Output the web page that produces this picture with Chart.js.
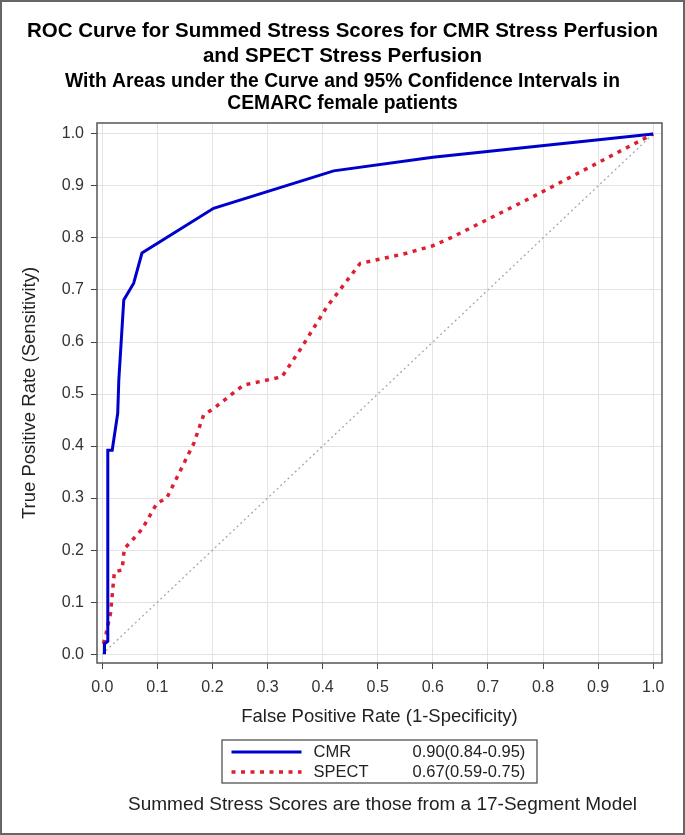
<!DOCTYPE html>
<html>
<head>
<meta charset="utf-8">
<script src="https://cdn.jsdelivr.net/npm/chart.js@4.4.0/dist/chart.umd.min.js"></script>
<style>
html, body { margin: 0; padding: 0; background: #fff; }
#wrap { width: 685px; height: 835px; }
</style>
</head>
<body>
<div id="wrap"><canvas id="grafica" width="685" height="835"></canvas></div>
<script>
// CMR curve (1-specificity, sensitivity)
const cmrX = [0.004, 0.004, 0.010, 0.010, 0.018, 0.028, 0.030, 0.039, 0.057, 0.072, 0.202, 0.420, 0.600, 1.000];
const cmrY = [0.000, 0.020, 0.025, 0.392, 0.392, 0.463, 0.527, 0.681, 0.713, 0.771, 0.857, 0.929, 0.955, 1.000];

// SPECT curve
const spectX = [0.002, 0.007, 0.015, 0.020, 0.022, 0.036, 0.040, 0.051, 0.072, 0.099, 0.117, 0.166, 0.184, 0.202, 0.256, 0.269, 0.326, 0.359, 0.408, 0.468, 0.550, 0.600, 0.632, 0.783, 1.000];
const spectY = [0.020, 0.040, 0.079, 0.136, 0.158, 0.162, 0.203, 0.215, 0.240, 0.290, 0.300, 0.405, 0.460, 0.472, 0.517, 0.520, 0.533, 0.585, 0.668, 0.751, 0.770, 0.785, 0.800, 0.880, 1.000];

// chance line
const refX = [0, 1];
const refY = [0, 1];

const seriesNames = ['CMR', 'SPECT'];
const aucText = ['0.90(0.84-0.95)', '0.67(0.59-0.75)'];
const tickVals = [0, 0.1, 0.2, 0.3, 0.4, 0.5, 0.6, 0.7, 0.8, 0.9, 1.0];

const titleLines = ['ROC Curve for Summed Stress Scores for CMR Stress Perfusion', 'and SPECT Stress Perfusion'];
const subtitleLines = ['With Areas under the Curve and 95% Confidence Intervals in', 'CEMARC female patients'];
const footnote = 'Summed Stress Scores are those from a 17-Segment Model';

const FONT = "'Liberation Sans', Arial, sans-serif";

function pts(xs, ys) {
  return xs.map((x, i) => ({ x: x, y: ys[i] }));
}

// white background, plot frame, outer border, legend box and footnote
const decor = {
  id: 'decor',
  beforeDraw(chart) {
    const ctx = chart.ctx;
    ctx.save();
    ctx.fillStyle = '#fff';
    ctx.fillRect(0, 0, chart.width, chart.height);
    ctx.restore();
  },
  afterDraw(chart) {
    const ctx = chart.ctx;
    const a = chart.chartArea;
    ctx.save();
    // plot frame
    ctx.strokeStyle = '#555';
    ctx.lineWidth = 1.5;
    ctx.strokeRect(a.left, a.top, a.right - a.left, a.bottom - a.top);
    // outer border
    ctx.strokeStyle = '#666';
    ctx.lineWidth = 2;
    ctx.strokeRect(1, 1, chart.width - 2, chart.height - 2);

    // legend
    const cx = (a.left + a.right) / 2;
    const top = a.bottom + 77;
    const bw = 315, bh = 43;
    ctx.strokeStyle = '#444';
    ctx.lineWidth = 1.2;
    ctx.strokeRect(cx - bw / 2, top, bw, bh);
    ctx.font = '16.5px ' + FONT;
    ctx.textBaseline = 'middle';
    ctx.fillStyle = '#222';
    [0, 1].forEach(i => {
      const ds = chart.data.datasets[i];
      const y = top + 12 + i * 20;
      ctx.beginPath();
      ctx.strokeStyle = ds.borderColor;
      ctx.lineWidth = ds.borderWidth;
      ctx.setLineDash(ds.borderDash || []);
      ctx.moveTo(cx - 148, y);
      ctx.lineTo(cx - 78, y);
      ctx.stroke();
      ctx.setLineDash([]);
      ctx.textAlign = 'left';
      ctx.fillText(seriesNames[i], cx - 66, y);
      ctx.fillText(aucText[i], cx + 33, y);
    });

    // footnote
    ctx.font = '19px ' + FONT;
    ctx.textAlign = 'center';
    ctx.fillStyle = '#222';
    ctx.fillText(footnote, cx + 3, a.bottom + 142);
    ctx.restore();
  }
};

const graph = document.querySelector('#grafica');

const data = {
  datasets: [
    {
      label: seriesNames[0],
      data: pts(cmrX, cmrY),
      borderColor: '#0000cc',
      borderWidth: 3,
      showLine: true,
      pointRadius: 0,
      tension: 0
    },
    {
      label: seriesNames[1],
      data: pts(spectX, spectY),
      borderColor: '#dd2030',
      borderWidth: 3.5,
      borderDash: [4, 5.5],
      borderCapStyle: 'butt',
      showLine: true,
      pointRadius: 0,
      tension: 0
    },
    {
      label: 'ref',
      data: pts(refX, refY),
      borderColor: '#a8a8a8',
      borderWidth: 1.3,
      borderDash: [2, 3],
      showLine: true,
      pointRadius: 0
    }
  ]
};

const config = {
  type: 'scatter',
  data: data,
  options: {
    responsive: false,
    animation: false,
    layout: { padding: { left: 0, right: 0, top: 0, bottom: 102 } },
    plugins: {
      legend: { display: false },
      tooltip: { enabled: false },
      title: {
        display: true,
        text: titleLines,
        color: '#000',
        font: { family: FONT, size: 20.5, weight: 'bold', lineHeight: 25 / 20.5 },
        padding: { top: 18.5, bottom: 1.75 }
      },
      subtitle: {
        display: true,
        text: subtitleLines,
        color: '#000',
        font: { family: FONT, size: 19.3, weight: 'bold', lineHeight: 22.5 / 19.3 },
        padding: { top: 0, bottom: 7.75 }
      }
    },
    scales: {
      x: {
        type: 'linear',
        min: -0.0096,
        max: 1.016,
        afterFit: s => { s.height = 70; },
        afterBuildTicks: s => { s.ticks = tickVals.map(v => ({ value: v })); },
        ticks: {
          color: '#333',
          font: { family: FONT, size: 16 },
          padding: 9,
          maxRotation: 0,
          callback: v => v.toFixed(1)
        },
        grid: { color: '#e3e3e3', tickColor: '#444', tickLength: 6, lineWidth: 1 },
        border: { display: false },
        title: {
          display: true,
          text: 'False Positive Rate (1-Specificity)',
          color: '#222',
          font: { family: FONT, size: 18.5 },
          padding: { top: 0, bottom: 5 }
        }
      },
      y: {
        type: 'linear',
        min: -0.017,
        max: 1.021,
        afterFit: s => { s.width = 97; },
        afterBuildTicks: s => { s.ticks = tickVals.map(v => ({ value: v })); },
        ticks: {
          color: '#333',
          font: { family: FONT, size: 16 },
          padding: 7,
          callback: v => v.toFixed(1)
        },
        grid: { color: '#e3e3e3', tickColor: '#444', tickLength: 6, lineWidth: 1 },
        border: { display: false },
        title: {
          display: true,
          text: 'True Positive Rate (Sensitivity)',
          color: '#222',
          font: { family: FONT, size: 18.5 },
          padding: { top: 19, bottom: 0 }
        }
      },
      // empty right-hand margin so the titles centre on the whole canvas
      yRight: {
        type: 'linear',
        position: 'right',
        min: 0,
        max: 1,
        afterFit: s => { s.width = 23; },
        ticks: { display: false },
        grid: { display: false, drawTicks: false },
        border: { display: false }
      }
    }
  },
  plugins: [decor]
};

new Chart(graph, config);
</script>
</body>
</html>
